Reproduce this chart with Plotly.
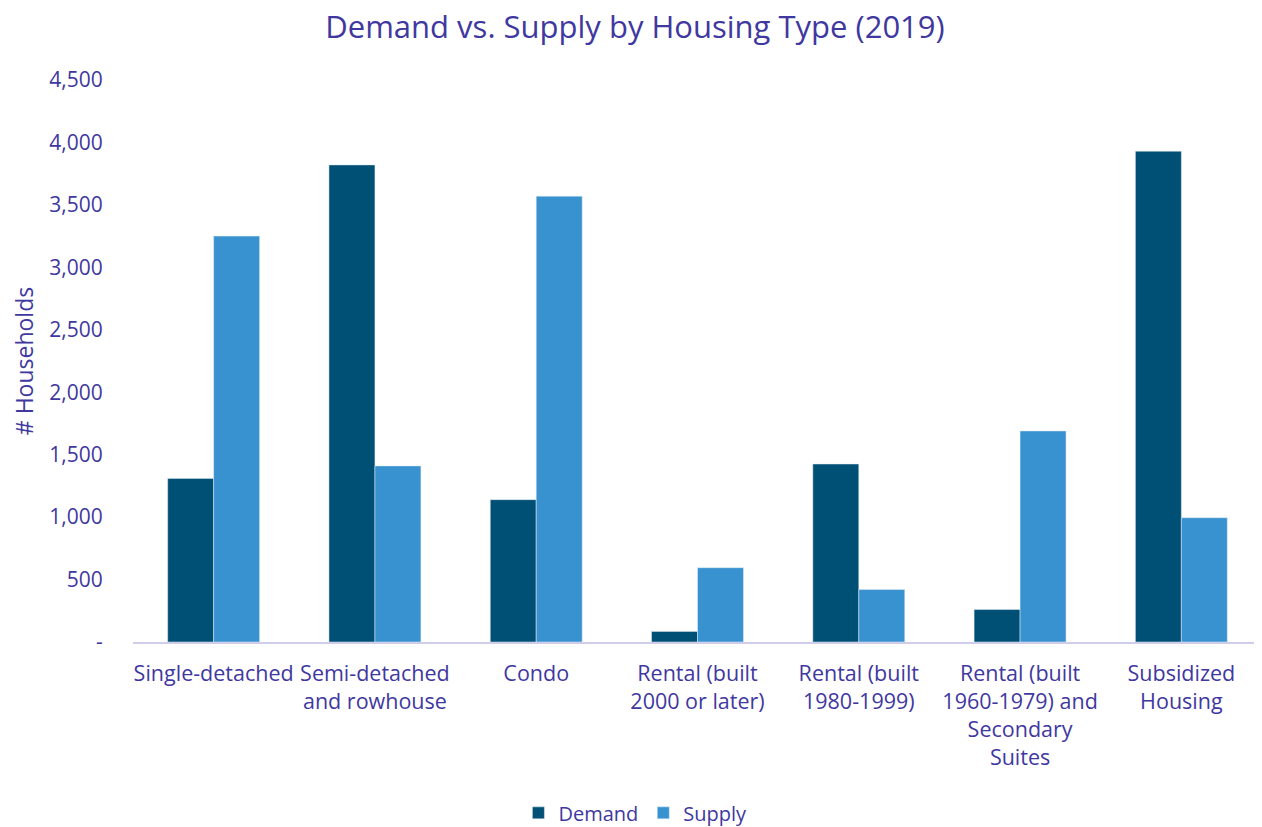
import plotly.graph_objects as go

categories = [
    "Single-detached",
    "Semi-detached<br>and rowhouse",
    "Condo",
    "Rental (built<br>2000 or later)",
    "Rental (built<br>1980-1999)",
    "Rental (built<br>1960-1979) and<br>Secondary<br>Suites",
    "Subsidized<br>Housing",
]
demand = [1310, 3820, 1140, 85, 1425, 260, 3930]
supply = [3250, 1410, 3570, 595, 420, 1690, 995]

y_ticks = [0, 500, 1000, 1500, 2000, 2500, 3000, 3500, 4000, 4500]
y_tick_text = ["-"] + [f"{v:,}" for v in y_ticks[1:]]

TEXT = "#3f38a0"
FONT = "Open Sans"

fig = go.Figure()
fig.add_trace(go.Bar(x=categories, y=demand, name="Demand", marker_color="#004f74"))
fig.add_trace(go.Bar(x=categories, y=supply, name="Supply", marker_color="#3892cf"))

# the page body adds an 8px margin, so the figure is sized to fit the window
fig.update_layout(
    width=1254,
    height=819,
    paper_bgcolor="white",
    plot_bgcolor="white",
    barmode="group",
    bargap=0.43,
    bargroupgap=0,
    margin=dict(l=125, r=0, t=72, b=185, autoexpand=False),
    font=dict(family=FONT, color=TEXT, size=20),
    title=dict(
        text="Demand vs. Supply by Housing Type (2019)",
        x=0.5,
        xref="container",
        y=1,
        yref="container",
        yanchor="top",
        pad=dict(t=8),
        font=dict(size=31, color=TEXT, family=FONT),
    ),
    legend=dict(
        orientation="h",
        x=0.445,
        xanchor="center",
        y=-0.304,
        yanchor="middle",
        font=dict(size=20, color=TEXT),
        itemwidth=30,
    ),
)
fig.update_xaxes(
    showline=True,
    linecolor="#d0cdea",
    linewidth=2,
    showgrid=False,
    tickfont=dict(size=21.5, color=TEXT),
    ticks="outside",
    ticklen=11,
    tickcolor="rgba(0,0,0,0)",
)
fig.update_yaxes(
    range=[0, 4500],
    tickvals=y_ticks,
    ticktext=y_tick_text,
    showgrid=False,
    zeroline=False,
    showline=False,
    ticks="outside",
    ticklen=25,
    tickcolor="rgba(0,0,0,0)",
    tickfont=dict(size=21, color=TEXT),
    title=dict(text="# Households", font=dict(size=23, color=TEXT), standoff=12),
)

fig.write_html("out.html")
